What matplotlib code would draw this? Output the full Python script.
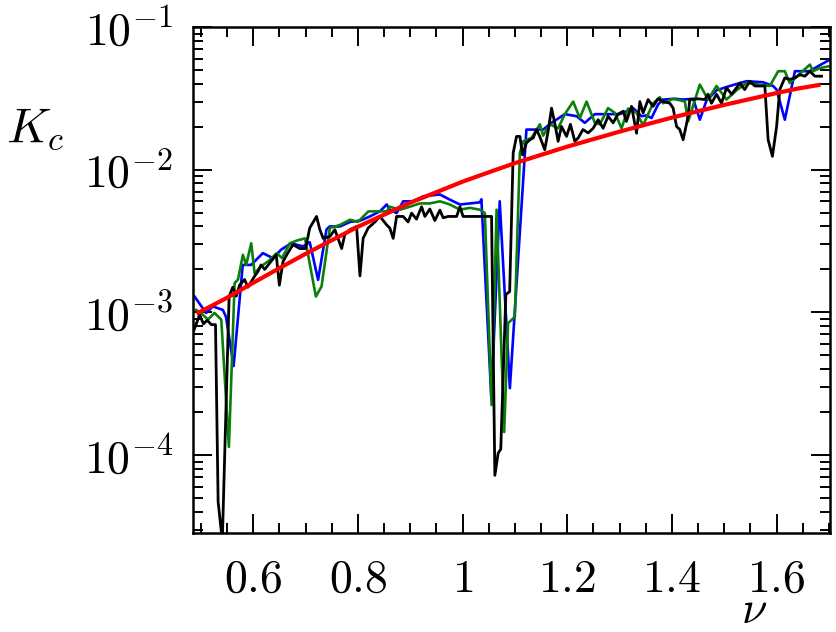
import numpy as np
import matplotlib
matplotlib.use("Agg")
import matplotlib.pyplot as plt
from matplotlib.ticker import FixedLocator, MultipleLocator, LogLocator, NullFormatter

plt.rcParams['mathtext.fontset'] = 'cm'
plt.rcParams['font.family'] = ['DejaVu Serif']

# ---------------- data ----------------
blue_x = [0.488, 0.510, 0.523, 0.542, 0.548, 0.5626, 0.580, 0.596, 0.6185, 0.6376, 0.6535,
          0.6726, 0.695, 0.708, 0.724, 0.740, 0.746, 0.766, 0.785, 0.805, 0.823, 0.842,
          0.855, 0.861, 0.874, 0.8865, 0.9056, 0.9247, 0.9567, 0.9758, 0.995, 1.0331,
          1.036, 1.055, 1.071, 1.0904, 1.122, 1.154, 1.170, 1.1954, 1.2178, 1.2336,
          1.2527, 1.278, 1.3005, 1.326, 1.342, 1.3515, 1.361, 1.3737, 1.3832, 1.4055,
          1.4214, 1.4405, 1.4533, 1.466, 1.4852, 1.5106, 1.5425, 1.5742, 1.5933, 1.6,
          1.6157, 1.635, 1.663, 1.6826, 1.7016]
blue_y = [1.29e-3, 9.9e-4, 1.1e-3, 1.04e-3, 9.3e-4, 4.2e-4, 2.15e-3, 2.15e-3, 2.6e-3, 2.4e-3, 2.75e-3,
          3.05e-3, 2.9e-3, 3.1e-3, 1.69e-3, 3.8e-3, 4.0e-3, 4.0e-3, 4.3e-3, 4.4e-3, 4.7e-3, 5.1e-3,
          5.7e-3, 5.24e-3, 4.96e-3, 6.0e-3, 6.0e-3, 6.5e-3, 6.7e-3, 6.16e-3, 5.7e-3, 5.9e-3,
          6.2e-3, 2.5e-4, 6.0e-3, 2.94e-4, 1.91e-2, 1.91e-2, 2.13e-2, 2.45e-2, 2.37e-2, 2.13e-2,
          2.45e-2, 2.45e-2, 2.45e-2, 2.7e-2, 2.37e-2, 2.4e-2, 2.3e-2, 2.87e-2, 3.1e-2, 3.14e-2,
          3.1e-2, 3.14e-2, 2.24e-2, 3.05e-2, 3.6e-2, 3.86e-2, 4.17e-2, 4.1e-2, 3.86e-2, 3.64e-2,
          2.24e-2, 4.9e-2, 4.9e-2, 5.4e-2, 5.9e-2]

green_x = [0.491, 0.504, 0.5135, 0.526, 0.539, 0.5536, 0.5645, 0.571, 0.5803, 0.5866, 0.5962,
           0.6027, 0.615, 0.630, 0.645, 0.655, 0.670, 0.685, 0.699, 0.7198, 0.7306, 0.7465,
           0.766, 0.785, 0.800, 0.820, 0.835, 0.855, 0.861, 0.8802, 0.8993, 0.9184, 0.9375,
           0.9567, 0.9758, 0.995, 1.014, 1.033, 1.0426, 1.0554, 1.065, 1.0795, 1.087, 1.0999,
           1.1095, 1.116, 1.1318, 1.1477, 1.154, 1.1667, 1.1826, 1.1954, 1.2113, 1.224,
           1.2369, 1.2527, 1.2623, 1.278, 1.291, 1.3037, 1.3163, 1.3324, 1.345, 1.364,
           1.3769, 1.3832, 1.4023, 1.4246, 1.431, 1.4533, 1.469, 1.4852, 1.5043, 1.5234,
           1.5425, 1.587, 1.603, 1.6157, 1.625, 1.6635, 1.6698, 1.6826, 1.699]
green_y = [1.04e-3, 9.6e-4, 8.9e-4, 9.9e-4, 8.9e-4, 1.14e-4, 1.6e-3, 1.7e-3, 2.53e-3, 2.15e-3, 3.05e-3,
           1.88e-3, 2.1e-3, 2.3e-3, 2.6e-3, 2.4e-3, 3.05e-3, 3.2e-3, 3.3e-3, 1.29e-3, 1.52e-3, 3.9e-3,
           4.1e-3, 4.46e-3, 4.3e-3, 5.1e-3, 5.1e-3, 5.1e-3, 5.5e-3, 5.24e-3, 5.5e-3, 5.8e-3, 5.8e-3,
           6.0e-3, 5.7e-3, 5.24e-3, 5.4e-3, 5.24e-3, 4.96e-3, 2.24e-4, 5.24e-3, 1.45e-4, 8.4e-4, 9.3e-4,
           1.31e-2, 1.58e-2, 1.67e-2, 2.08e-2, 1.73e-2, 2.08e-2, 1.95e-2, 2.45e-2, 3.0e-2, 2.3e-2,
           3.0e-2, 2.13e-2, 2.08e-2, 2.7e-2, 2.5e-2, 1.95e-2, 2.68e-2, 2.5e-2, 2.05e-2, 2.92e-2,
           3.22e-2, 2.92e-2, 3.14e-2, 3.01e-2, 2.18e-2, 3.95e-2, 3.1e-2, 3.86e-2, 3.1e-2, 3.6e-2,
           4.05e-2, 3.86e-2, 4.9e-2, 4.9e-2, 4.05e-2, 5.45e-2, 4.9e-2, 5.15e-2, 5.3e-2]

black_x = [0.485, 0.4976, 0.505, 0.512, 0.520, 0.528, 0.533, 0.541, 0.554, 0.561, 0.5675,
           0.574, 0.5835, 0.590, 0.603, 0.609, 0.615, 0.622, 0.631, 0.644, 0.650, 0.657,
           0.666, 0.676, 0.689, 0.700, 0.708, 0.721, 0.7274, 0.7337, 0.7465, 0.756, 0.762,
           0.769, 0.775, 0.785, 0.7975, 0.804, 0.810, 0.8197, 0.8325, 0.842, 0.855, 0.861,
           0.8675, 0.874, 0.8865, 0.896, 0.9026, 0.912, 0.9217, 0.928, 0.9375, 0.947, 0.9567,
           0.963, 0.9725, 0.9886, 0.995, 1.001, 1.0554, 1.0617, 1.068, 1.073, 1.0827, 1.09,
           1.0967, 1.1031, 1.1095, 1.1146, 1.122, 1.1286, 1.135, 1.1414, 1.1477, 1.157, 1.1635,
           1.170, 1.176, 1.1826, 1.189, 1.1987, 1.206, 1.2145, 1.221, 1.230, 1.240, 1.2495,
           1.259, 1.2686, 1.278, 1.2877, 1.297, 1.3068, 1.313, 1.3228, 1.3324, 1.3387, 1.345,
           1.3545, 1.364, 1.3737, 1.3832, 1.396, 1.4023, 1.4088, 1.415, 1.4214, 1.431, 1.434,
           1.450, 1.4628, 1.469, 1.4756, 1.4852, 1.4947, 1.5043, 1.514, 1.5234, 1.5297, 1.539,
           1.5488, 1.5584, 1.5775, 1.5838, 1.592, 1.600, 1.606, 1.6157, 1.625, 1.635, 1.6443,
           1.654, 1.6635, 1.673, 1.6858]
black_y = [7.2e-4, 9.6e-4, 8.3e-4, 8.8e-4, 8.2e-4, 8.2e-4, 4.7e-5, 2.5e-5, 1.29e-3, 1.5e-3, 1.3e-3,
           1.55e-3, 1.7e-3, 1.5e-3, 1.8e-3, 1.93e-3, 2.15e-3, 2.0e-3, 2.2e-3, 2.53e-3, 1.55e-3, 2.27e-3,
           2.6e-3, 2.98e-3, 2.8e-3, 2.8e-3, 3.9e-3, 4.7e-3, 3.8e-3, 3.3e-3, 3.4e-3, 3.8e-3, 3.3e-3,
           2.8e-3, 3.5e-3, 3.8e-3, 4.0e-3, 1.8e-3, 3.3e-3, 3.9e-3, 4.3e-3, 4.7e-3, 4.1e-3, 3.9e-3,
           3.3e-3, 4.7e-3, 4.7e-3, 4.3e-3, 4.96e-3, 4.5e-3, 5.5e-3, 4.7e-3, 5.3e-3, 4.4e-3, 5.2e-3,
           4.6e-3, 4.7e-3, 4.7e-3, 5.5e-3, 4.7e-3, 4.7e-3, 7.2e-5, 1.03e-4, 1.1e-4, 1.33e-3, 1.4e-3,
           1.31e-2, 1.71e-2, 1.71e-2, 1.27e-2, 1.54e-2, 1.62e-2, 1.67e-2, 1.91e-2, 1.7e-2, 1.38e-2, 1.86e-2,
           2.7e-2, 2.13e-2, 1.58e-2, 2.01e-2, 1.71e-2, 2.08e-2, 1.58e-2, 1.67e-2, 1.91e-2, 1.81e-2, 1.95e-2,
           2.24e-2, 1.95e-2, 2.37e-2, 2.13e-2, 2.45e-2, 2.57e-2, 2.18e-2, 2.78e-2, 1.8e-2, 3.0e-2, 2.5e-2,
           3.1e-2, 2.78e-2, 3.14e-2, 3.01e-2, 2.92e-2, 2.7e-2, 2.01e-2, 1.91e-2, 1.62e-2, 2.37e-2, 3.1e-2,
           3.14e-2, 3.1e-2, 3.38e-2, 2.92e-2, 3.38e-2, 2.92e-2, 3.75e-2, 3.38e-2, 3.75e-2, 4.05e-2, 3.64e-2,
           4.17e-2, 3.86e-2, 3.86e-2, 1.62e-2, 1.24e-2, 2.01e-2, 3.64e-2, 4.4e-2, 4.29e-2, 4.4e-2, 4.63e-2,
           4.52e-2, 4.9e-2, 4.52e-2, 4.52e-2]

red_x = [0.495, 0.55, 0.6, 0.65, 0.7, 0.75, 0.8, 0.85, 0.9, 0.95, 1.0, 1.05, 1.1, 1.15,
         1.2, 1.25, 1.3, 1.35, 1.4, 1.45, 1.5, 1.55, 1.6, 1.64, 1.68]
red_y = [9.92e-4, 1.265e-3, 1.61e-3, 2.04e-3, 2.57e-3, 3.2e-3, 3.98e-3, 4.83e-3, 5.87e-3,
         6.95e-3, 8.24e-3, 9.58e-3, 1.111e-2, 1.27e-2, 1.45e-2, 1.637e-2, 1.848e-2, 2.07e-2,
         2.317e-2, 2.57e-2, 2.844e-2, 3.13e-2, 3.442e-2, 3.7e-2, 3.92e-2]

xtick_vals = [0.6, 0.8, 1.0, 1.2, 1.4, 1.6]
xtick_labels = ['0.6', '0.8', '1', '1.2', '1.4', '1.6']
ytick_vals = [1e-4, 1e-3, 1e-2, 1e-1]
ytick_labels = ['10^{-4}', '10^{-3}', '10^{-2}', '10^{-1}']

# ---------------- figure ----------------
fig = plt.figure(figsize=(8.36, 6.32), dpi=100)
ax = fig.add_axes([193/836, 1-533/632, (830-193)/836, (533-27)/632])

ax.plot(blue_x, blue_y, color='#0000ff', lw=1.9)
ax.plot(green_x, green_y, color='#0a800a', lw=1.9)
ax.plot(black_x, black_y, color='black', lw=2.0)
ax.plot(red_x, red_y, color='#ff0000', lw=3.0)

ax.set_yscale('log')
ax.set_xlim(0.485, 1.702)
ax.set_ylim(2.84e-5, 1e-1)

ax.xaxis.set_major_locator(FixedLocator(xtick_vals))
ax.set_xticklabels(['$' + s + '$' for s in xtick_labels])
ax.xaxis.set_minor_locator(MultipleLocator(0.05))
ax.yaxis.set_major_locator(FixedLocator(ytick_vals))
ax.set_yticklabels(['$' + s + '$' for s in ytick_labels])
ax.yaxis.set_minor_locator(LogLocator(base=10, subs=np.arange(2, 10), numticks=20))
ax.yaxis.set_minor_formatter(NullFormatter())

ax.tick_params(which='both', direction='in', top=True, right=True, width=1.4)
ax.tick_params(which='major', length=14, labelsize=33)
ax.tick_params(which='minor', length=7)
ax.tick_params(axis='x', which='major', pad=17)
ax.tick_params(axis='y', which='major', pad=14)
for sp in ax.spines.values():
    sp.set_linewidth(1.8)

fig.text(35/836, 1-128/632, '$K_c$', fontsize=35, ha='center', va='center')
fig.text(754/836, 1-610/632, r'$\nu$', fontsize=33, ha='center', va='center')

fig.savefig('out.png', dpi=100)
